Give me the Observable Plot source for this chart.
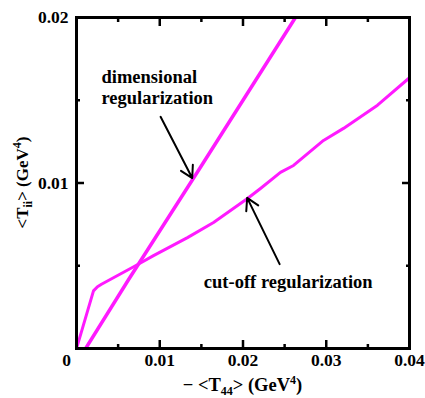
<!DOCTYPE html>
<html><head><meta charset="utf-8">
<script src="https://cdn.jsdelivr.net/npm/d3@7"></script>
<script src="https://cdn.jsdelivr.net/npm/@observablehq/plot@0.6"></script>
<style>body{margin:0;background:#fff} svg{display:block}</style>
</head><body><div id="chart"></div>
<script>
// cut-off regularization curve
const cutX = [0, 0.00204, 0.00252, 0.00300, 0.00709, 0.00925, 0.01333, 0.01646, 0.02054, 0.02210, 0.02450, 0.02607, 0.02967, 0.03207, 0.03616, 0.04000];
const cutY = [0, 0.00348, 0.00373, 0.00388, 0.00500, 0.00561, 0.00670, 0.00761, 0.00906, 0.00967, 0.01064, 0.01106, 0.01257, 0.01330, 0.01470, 0.01636];
// dimensional regularization curve
const dimX = [0.0011, 0.0063, 0.0147, 0.0200, 0.0263];
const dimY = [0, 0.0042, 0.0108, 0.0150, 0.0200];

// annotations
const noteText = ["dimensional", "regularization", "cut-off regularization"];
const noteX = [0.0030, 0.0030, 0.0153];
const noteY = [0.01639, 0.01512, 0.00403];
const arrowX1 = [0.0101, 0.0244];
const arrowY1 = [0.0140, 0.0051];
const arrowX2 = [0.0139, 0.0205];
const arrowY2 = [0.0103, 0.0091];

// ticks
const xMajor = [0, 0.01, 0.02, 0.03, 0.04];
const xMinor = [0.005, 0.015, 0.025, 0.035];
const yMajor = [0, 0.01, 0.02];
const yMinor = [0.005, 0.015];
const xTickVals = [0.01, 0.02, 0.03, 0.04];
const xTickLabels = ["0.01", "0.02", "0.03", "0.04"];
const zeroLabel = ["0"];
const yTickVals = [0.01, 0.02];
const yTickLabels = ["0.01", "0.02"];

// axis titles: [text, kind] kind: n normal, sub, sup
const xTitle = [["− <T", "n"], ["44", "sub"], ["> (GeV", "n"], ["4", "sup"], [")", "n"]];
const yTitle = [["<T", "n"], ["ii", "sub"], ["> (GeV", "n"], ["4", "sup"], [")", "n"]];

const color = "#ff1aff";
const FONT = "Liberation Serif";
const W = 425, H = 398, ML = 76, MR = 16, MT = 17, MB = 50;

const cut = cutX.map((x, i) => ({x, y: cutY[i]}));
const dim = dimX.map((x, i) => ({x, y: dimY[i]}));
const notes = noteText.map((t, i) => ({t, x: noteX[i], y: noteY[i]}));
const arrows = arrowX1.map((x1, i) => ({x1, y1: arrowY1[i], x2: arrowX2[i], y2: arrowY2[i]}));
const blank = () => "";

const plot = Plot.plot({
  width: W, height: H,
  marginLeft: ML, marginRight: MR, marginTop: MT, marginBottom: MB,
  x: {domain: [0, 0.04]},
  y: {domain: [0, 0.02]},
  style: {fontSize: "18px", fontFamily: FONT, background: "#fff", color: "#000"},
  marks: [
    Plot.line(cut, {x: "x", y: "y", stroke: color, strokeWidth: 3, clip: true}),
    Plot.line(dim, {x: "x", y: "y", stroke: color, strokeWidth: 3.5, clip: true}),
    Plot.arrow(arrows, {x1: "x1", y1: "y1", x2: "x2", y2: "y2", stroke: "#000", strokeWidth: 2, headLength: 10, inset: 0}),
    Plot.text(notes, {x: "x", y: "y", text: "t", textAnchor: "start", fontSize: 18.5, fontFamily: FONT, fontWeight: "bold"}),
    // major/minor ticks, inward on all sides
    Plot.axisX(xMajor, {anchor: "bottom", tickSize: -8, strokeWidth: 2.5, tickFormat: blank, label: null}),
    Plot.axisX(xMinor, {anchor: "bottom", tickSize: -4, strokeWidth: 2.5, tickFormat: blank, label: null}),
    Plot.axisX(xMajor, {anchor: "top", tickSize: -8, strokeWidth: 2.5, tickFormat: blank, label: null}),
    Plot.axisX(xMinor, {anchor: "top", tickSize: -4, strokeWidth: 2.5, tickFormat: blank, label: null}),
    Plot.axisY(yMajor, {anchor: "left", tickSize: -8, strokeWidth: 2.5, tickFormat: blank, label: null}),
    Plot.axisY(yMinor, {anchor: "left", tickSize: -4, strokeWidth: 2.5, tickFormat: blank, label: null}),
    Plot.axisY(yMajor, {anchor: "right", tickSize: -8, strokeWidth: 2.5, tickFormat: blank, label: null}),
    Plot.axisY(yMinor, {anchor: "right", tickSize: -4, strokeWidth: 2.5, tickFormat: blank, label: null}),
    // tick labels
    Plot.text(xTickVals, {x: d => d, frameAnchor: "bottom", dy: 17, text: (d, i) => xTickLabels[i], fontSize: 17.5, fontFamily: FONT, fontWeight: "bold"}),
    Plot.text(zeroLabel, {x: () => 0, frameAnchor: "bottom", dy: 17, dx: -10, text: d => d, fontSize: 17.5, fontFamily: FONT, fontWeight: "bold"}),
    Plot.text(yTickVals, {y: d => d, frameAnchor: "left", textAnchor: "end", dx: -8, text: (d, i) => yTickLabels[i], fontSize: 17.5, fontFamily: FONT, fontWeight: "bold"}),
    Plot.frame({stroke: "#000", strokeWidth: 3})
  ]
});

const svg = d3.select(plot);
function addTitle(parts, x, y, rotate, size) {
  const t = svg.append("text")
    .attr("text-anchor", "middle")
    .attr("font-size", size)
    .attr("font-weight", "bold")
    .attr("font-family", FONT)
    .style("white-space", "pre")
    .attr("transform", `translate(${x},${y})` + (rotate ? " rotate(-90)" : ""));
  let shift = 0;
  for (const [s, k] of parts) {
    const target = k === "sub" ? 4 : k === "sup" ? -7 : 0;
    const sp = t.append("tspan").text(s).attr("dy", target - shift);
    if (k !== "n") sp.attr("font-size", 12);
    shift = target;
  }
}
addTitle(xTitle, (ML + W - MR) / 2, 391, false, 18.5);
addTitle(yTitle, 28, (MT + H - MB) / 2, true, 17);

document.getElementById("chart").appendChild(plot);
</script>
</body></html>
